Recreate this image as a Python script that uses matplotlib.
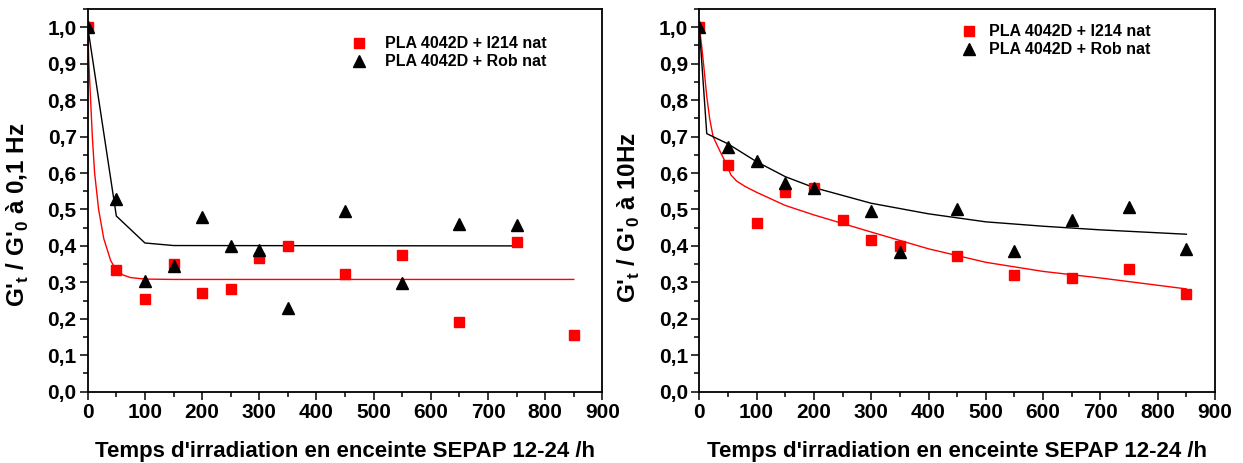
import numpy as np
import matplotlib
matplotlib.use("Agg")
import matplotlib.pyplot as plt
from matplotlib.ticker import MultipleLocator, FuncFormatter

plt.rcParams['font.family'] = ['Liberation Sans', 'DejaVu Sans']
plt.rcParams['font.weight'] = 'bold'
plt.rcParams['mathtext.fontset'] = 'custom'
plt.rcParams['mathtext.bf'] = 'Liberation Sans:bold'
plt.rcParams['mathtext.rm'] = 'Liberation Sans:bold'

# irradiation times (h)
t_i214 = [0, 50, 100, 150, 200, 250, 300, 350, 450, 550, 650, 750, 850]

# G' ratio at 0.1 Hz
i214_01 = [1.0, 0.335, 0.254, 0.350, 0.270, 0.281, 0.366, 0.400, 0.322, 0.376, 0.192, 0.411, 0.156]
t_rob_01 = [0, 50, 100, 150, 200, 250, 300, 350, 450, 550, 650, 750]
rob_01 = [1.0, 0.529, 0.305, 0.346, 0.479, 0.401, 0.389, 0.231, 0.495, 0.297, 0.459, 0.457]

# fitted curves at 0.1 Hz
fit_t_i214_01 = [0, 2, 5, 8, 12, 19, 28, 40, 50, 62, 75, 100, 150, 850]
fit_i214_01 = [1.0, 0.9, 0.8, 0.7, 0.6, 0.5, 0.42, 0.36, 0.333, 0.320, 0.313, 0.309, 0.308, 0.308]
fit_t_rob_01 = [0, 50, 100, 150, 750]
fit_rob_01 = [1.0, 0.482, 0.408, 0.401, 0.400]

# G' ratio at 10 Hz
i214_10 = [1.0, 0.621, 0.462, 0.549, 0.559, 0.472, 0.417, 0.401, 0.373, 0.320, 0.311, 0.337, 0.268]
t_rob_10 = [0, 50, 100, 150, 200, 300, 350, 450, 550, 650, 750, 850]
rob_10 = [1.0, 0.672, 0.633, 0.572, 0.560, 0.495, 0.384, 0.502, 0.387, 0.472, 0.506, 0.392]

# fitted curves at 10 Hz
fit_t_i214_10 = [0, 4, 8, 13, 18, 24, 36, 48, 55, 65, 80, 100, 150, 200, 300, 400, 500, 600, 700, 850]
fit_i214_10 = [1.0, 0.95, 0.89, 0.81, 0.75, 0.70, 0.66, 0.622, 0.595, 0.578, 0.563, 0.547, 0.511, 0.485,
               0.438, 0.392, 0.355, 0.330, 0.312, 0.282]
fit_t_rob_10 = [0, 13, 50, 100, 150, 200, 300, 400, 500, 600, 700, 850]
fit_rob_10 = [1.0, 0.708, 0.680, 0.631, 0.590, 0.560, 0.517, 0.488, 0.466, 0.454, 0.444, 0.432]

lab_i214 = "PLA 4042D + I214 nat"
lab_rob = "PLA 4042D + Rob nat"
xlab = "Temps d'irradiation en enceinte SEPAP 12-24 /h"

fig = plt.figure(figsize=(12.43, 4.63), dpi=100)
ax1 = fig.add_axes([0.0706, 0.154, 0.414, 0.8266])
ax2 = fig.add_axes([0.5626, 0.154, 0.4149, 0.8266])


def style(ax, ylabel):
    ax.set_xlim(0, 900)
    ax.set_ylim(0, 1.05)
    ax.xaxis.set_major_locator(MultipleLocator(100))
    ax.xaxis.set_minor_locator(MultipleLocator(50))
    ax.yaxis.set_major_locator(MultipleLocator(0.1))
    ax.yaxis.set_minor_locator(MultipleLocator(0.05))
    ax.yaxis.set_major_formatter(FuncFormatter(lambda v, p: f"{v:.1f}".replace('.', ',')))
    ax.tick_params(which='both', direction='out', top=False, right=False, width=1.1, labelsize=15)
    ax.tick_params(which='major', length=6, pad=2)
    ax.tick_params(which='minor', length=3.5)
    for s in ax.spines.values():
        s.set_linewidth(1.3)
    ax.set_xlabel(xlab, fontsize=16, fontweight='bold')
    ax.xaxis.set_label_coords(0.5, -0.128)
    ax.set_ylabel(ylabel, fontsize=17.5, fontweight='bold')


# left panel
ax1.plot(fit_t_i214_01, fit_i214_01, color='red', lw=1)
ax1.plot(fit_t_rob_01, fit_rob_01, color='black', lw=1)
ax1.plot(t_i214, i214_01, 's', color='red', ms=7, label=lab_i214)
ax1.plot(t_rob_01, rob_01, '^', color='black', ms=8, label=lab_rob)
style(ax1, r"G'$_\mathbf{t}$ / G'$_\mathbf{0}$ à 0,1 Hz")
ax1.yaxis.set_label_coords(-0.11, 0.462)
h, l = ax1.get_legend_handles_labels()
ax1.legend(h, l, loc='upper left', bbox_to_anchor=(0.512, 0.929), borderaxespad=0, borderpad=0,
           frameon=False, handlelength=1, handletextpad=1.1, labelspacing=0.2,
           prop={'size': 11.5, 'weight': 'bold'})

# right panel
ax2.plot(fit_t_i214_10, fit_i214_10, color='red', lw=1)
ax2.plot(fit_t_rob_10, fit_rob_10, color='black', lw=1)
ax2.plot(t_i214, i214_10, 's', color='red', ms=7, label=lab_i214)
ax2.plot(t_rob_10, rob_10, '^', color='black', ms=8, label=lab_rob)
style(ax2, r"G'$_\mathbf{t}$ / G'$_\mathbf{0}$ à 10Hz")
ax2.yaxis.set_label_coords(-0.111, 0.456)
h, l = ax2.get_legend_handles_labels()
ax2.legend(h, l, loc='upper left', bbox_to_anchor=(0.508, 0.96), borderaxespad=0, borderpad=0,
           frameon=False, handlelength=1, handletextpad=0.75, labelspacing=0.2,
           prop={'size': 11.5, 'weight': 'bold'})

fig.savefig("out.png", dpi=100)
